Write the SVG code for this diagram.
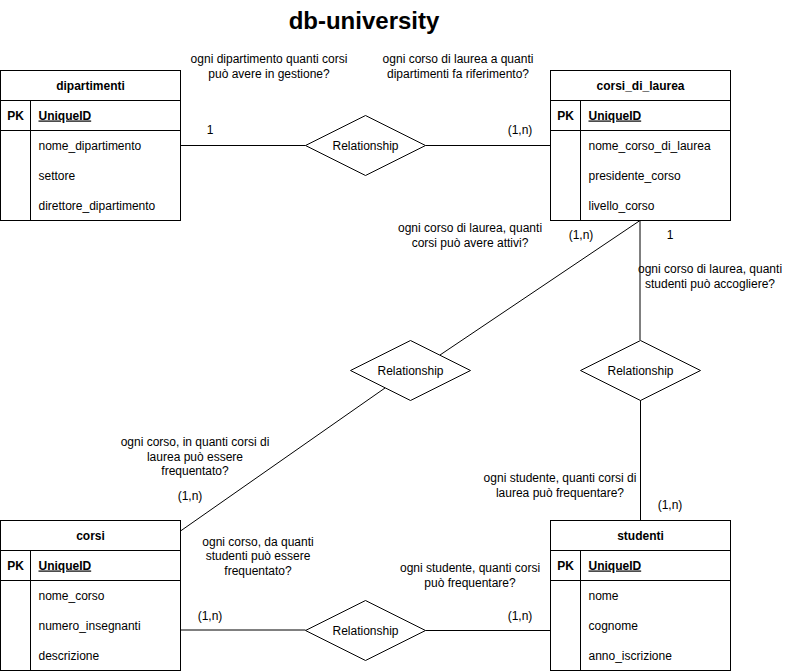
<svg xmlns="http://www.w3.org/2000/svg" width="791" height="671" viewBox="0 0 791 671">
<style>
text{font-family:"Liberation Sans",Arial,sans-serif;font-size:12px;fill:#000}
.t{font-size:24px;font-weight:bold}
.b{font-weight:bold}
.u{font-weight:bold;text-decoration:underline}
.m{text-anchor:middle}
.box{fill:#fff;stroke:#000;stroke-width:1}
.ln{fill:none;stroke:#000;stroke-width:1}
.q{fill:#333}
</style>
<rect width="791" height="671" fill="#fff"/>
<text class="t m" x="364" y="29">db-university</text>

<g id="connectors">
<line class="ln" x1="180.5" y1="145.5" x2="305.5" y2="145.5"/>
<line class="ln" x1="425.5" y1="145.5" x2="550.5" y2="145.5"/>
<line class="ln" x1="640" y1="220.5" x2="440" y2="355"/>
<line class="ln" x1="385" y1="388" x2="180.5" y2="531"/>
<line class="ln" x1="640" y1="220.5" x2="640" y2="340"/>
<line class="ln" x1="640.5" y1="400" x2="640.5" y2="520.5"/>
<line class="ln" x1="180.5" y1="630" x2="305.5" y2="630"/>
<line class="ln" x1="425.5" y1="630.5" x2="550.5" y2="630.5"/>
</g>

<g id="labels">
<text class="m" x="210" y="134">1</text>
<text class="m" x="520" y="134">(1,n)</text>
<text class="m" x="581" y="239">(1,n)</text>
<text class="m" x="670" y="239">1</text>
<text class="m" x="190" y="500">(1,n)</text>
<text class="m" x="670" y="509">(1,n)</text>
<text class="m" x="210" y="620">(1,n)</text>
<text class="m" x="520" y="620">(1,n)</text>
<text class="m" x="269" y="63">ogni dipartimento quanti corsi</text>
<text class="m" x="269" y="78">può avere in gestione?</text>
<text class="m" x="458" y="63">ogni corso di laurea a quanti</text>
<text class="m" x="458" y="78">dipartimenti fa riferimento?</text>
<text class="m" x="470" y="232">ogni corso di laurea, quanti</text>
<text class="m" x="470" y="247">corsi può avere attivi?</text>
<text class="m" x="710" y="273">ogni corso di laurea, quanti</text>
<text class="m" x="710" y="288">studenti può accogliere?</text>
<text class="m" x="195" y="446">ogni corso, in quanti corsi di</text>
<text class="m" x="195" y="461">laurea può essere</text>
<text class="m" x="195" y="475">frequentato?</text>
<text class="m" x="258" y="546">ogni corso, da quanti</text>
<text class="m" x="258" y="560">studenti può essere</text>
<text class="m" x="258" y="575">frequentato?</text>
<text class="m" x="560" y="482">ogni studente, quanti corsi di</text>
<text class="m" x="560" y="497">laurea può frequentare?</text>
<text class="m" x="470" y="572">ogni studente, quanti corsi</text>
<text class="m" x="470" y="587">può frequentare?</text>
</g>

<g id="rel1">
<polygon class="box" points="305.5,145.5 365.5,115.5 425.5,145.5 365.5,175.5"/>
<text class="m" x="365.5" y="149.5">Relationship</text>
</g>
<g id="rel2">
<polygon class="box" points="350.5,370.5 410.5,340.5 470.5,370.5 410.5,400.5"/>
<text class="m" x="410.5" y="374.5">Relationship</text>
</g>
<g id="rel3">
<polygon class="box" points="580.5,370.5 640.5,340.5 700.5,370.5 640.5,400.5"/>
<text class="m" x="640.5" y="374.5">Relationship</text>
</g>
<g id="rel4">
<polygon class="box" points="305.5,630.5 365.5,600.5 425.5,630.5 365.5,660.5"/>
<text class="m" x="365.5" y="634.5">Relationship</text>
</g>

<g id="dipartimenti">
<rect class="box" x="0.5" y="70.5" width="180" height="150"/>
<line class="ln" x1="0.5" y1="100.5" x2="180.5" y2="100.5"/>
<line class="ln" x1="0.5" y1="130.5" x2="180.5" y2="130.5"/>
<line class="ln" x1="30.5" y1="100.5" x2="30.5" y2="220.5"/>
<text class="b m" x="90.5" y="89.5">dipartimenti</text>
<text class="b m" x="15.5" y="119.5">PK</text>
<text class="u" x="38.5" y="119.5">UniqueID</text>
<text x="38.5" y="149.5">nome_dipartimento</text>
<text x="38.5" y="179.5">settore</text>
<text x="38.5" y="209.5">direttore_dipartimento</text>
</g>

<g id="corsi_di_laurea">
<rect class="box" x="550.5" y="70.5" width="180" height="150"/>
<line class="ln" x1="550.5" y1="100.5" x2="730.5" y2="100.5"/>
<line class="ln" x1="550.5" y1="130.5" x2="730.5" y2="130.5"/>
<line class="ln" x1="580.5" y1="100.5" x2="580.5" y2="220.5"/>
<text class="b m" x="640.5" y="89.5">corsi_di_laurea</text>
<text class="b m" x="565.5" y="119.5">PK</text>
<text class="u" x="588.5" y="119.5">UniqueID</text>
<text x="588.5" y="149.5">nome_corso_di_laurea</text>
<text x="588.5" y="179.5">presidente_corso</text>
<text x="588.5" y="209.5">livello_corso</text>
</g>

<g id="corsi">
<rect class="box" x="0.5" y="520.5" width="180" height="150"/>
<line class="ln" x1="0.5" y1="550.5" x2="180.5" y2="550.5"/>
<line class="ln" x1="0.5" y1="580.5" x2="180.5" y2="580.5"/>
<line class="ln" x1="30.5" y1="550.5" x2="30.5" y2="670.5"/>
<text class="b m" x="90.5" y="539.5">corsi</text>
<text class="b m" x="15.5" y="569.5">PK</text>
<text class="u" x="38.5" y="569.5">UniqueID</text>
<text x="38.5" y="599.5">nome_corso</text>
<text x="38.5" y="629.5">numero_insegnanti</text>
<text x="38.5" y="659.5">descrizione</text>
</g>

<g id="studenti">
<rect class="box" x="550.5" y="520.5" width="180" height="150"/>
<line class="ln" x1="550.5" y1="550.5" x2="730.5" y2="550.5"/>
<line class="ln" x1="550.5" y1="580.5" x2="730.5" y2="580.5"/>
<line class="ln" x1="580.5" y1="550.5" x2="580.5" y2="670.5"/>
<text class="b m" x="640.5" y="539.5">studenti</text>
<text class="b m" x="565.5" y="569.5">PK</text>
<text class="u" x="588.5" y="569.5">UniqueID</text>
<text x="588.5" y="599.5">nome</text>
<text x="588.5" y="629.5">cognome</text>
<text x="588.5" y="659.5">anno_iscrizione</text>
</g>
</svg>
